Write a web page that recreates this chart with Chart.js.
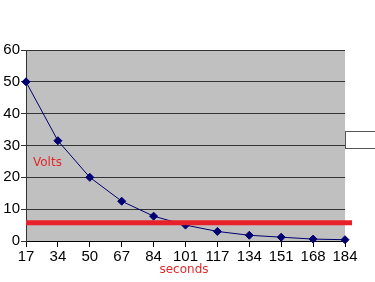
<!DOCTYPE html>
<html>
<head>
<meta charset="utf-8">
<script src="https://cdn.jsdelivr.net/npm/chart.js@4"></script>
<style>
    html, body { margin: 0; padding: 0; background: #fff; }
    #wrap { width: 375px; height: 282px; position: relative; }
</style>
</head>
<body>
<div id="wrap"><canvas id="voltChart"></canvas></div>
<script>
// 数据
const seconds = ['17', '34', '50', '67', '84', '101', '117', '134', '151', '168', '184'];
const volts = [50, 31.5, 20, 12.5, 7.8, 5, 3, 1.8, 1.2, 0.6, 0.4];
const yTicks = [0, 10, 20, 30, 40, 50, 60];
const thresholdVolts = 5.7;

// 灰色背景 + 红线 + 标注文字
const decor = {
    id: 'decor',
    beforeDraw(chart) {
        const { ctx, chartArea: a } = chart;
        ctx.save();
        ctx.fillStyle = '#c0c0c0';
        ctx.fillRect(a.left, a.top, a.right - a.left, a.bottom - a.top);
        ctx.restore();
    },
    afterDatasetsDraw(chart) {
        const { ctx, chartArea: a, scales } = chart;
        const y = scales.y.getPixelForValue(thresholdVolts);
        ctx.save();
        ctx.strokeStyle = '#e8202a';
        ctx.lineWidth = 5;
        ctx.beginPath();
        ctx.moveTo(a.left, y);
        ctx.lineTo(a.right + 7, y);
        ctx.stroke();

        ctx.fillStyle = '#e02a2a';
        ctx.font = '12px "DejaVu Sans", sans-serif';
        ctx.textBaseline = 'middle';
        ctx.fillText('Volts', a.left + 7, 163);
        ctx.textAlign = 'center';
        ctx.fillText('seconds', 184, 270);

        // 右侧图例框
        ctx.fillStyle = '#fff';
        ctx.strokeStyle = '#555';
        ctx.lineWidth = 1;
        ctx.fillRect(345.5, 131.5, 40, 17);
        ctx.strokeRect(345.5, 131.5, 40, 17);
        ctx.restore();
    }
};

new Chart(document.getElementById('voltChart'), {
    type: 'line',
    data: {
        labels: seconds,
        datasets: [{
            data: volts,
            borderColor: '#000070',
            backgroundColor: '#000070',
            borderWidth: 1,
            pointStyle: 'rectRot',
            pointRadius: 4,
            tension: 0,
            clip: false
        }]
    },
    options: {
        responsive: true,
        maintainAspectRatio: false,
        animation: false,
        layout: { padding: { top: 50, right: 30, left: 0, bottom: 0 } },
        plugins: { legend: { display: false }, tooltip: { enabled: false } },
        scales: {
            x: {
                offset: false,
                grid: { drawOnChartArea: false, drawTicks: true, tickLength: 6, color: '#000' },
                border: { color: '#000', width: 1 },
                ticks: {
                    color: '#000',
                    font: { family: '"Liberation Sans", Arial, sans-serif', size: 15 },
                    maxRotation: 0,
                    autoSkip: false,
                    padding: 1
                },
                afterFit(scale) { scale.height = 41; }
            },
            y: {
                min: 0,
                max: 60,
                afterBuildTicks(scale) { scale.ticks = yTicks.map(v => ({ value: v })); },
                grid: { color: '#333', lineWidth: 1, drawTicks: true, tickLength: 5 },
                border: { color: '#333', width: 1 },
                ticks: {
                    color: '#000',
                    font: { family: '"Liberation Sans", Arial, sans-serif', size: 15 },
                    padding: 1
                },
                afterFit(scale) { scale.width = 26; }
            }
        }
    },
    plugins: [decor]
});
</script>
</body>
</html>
